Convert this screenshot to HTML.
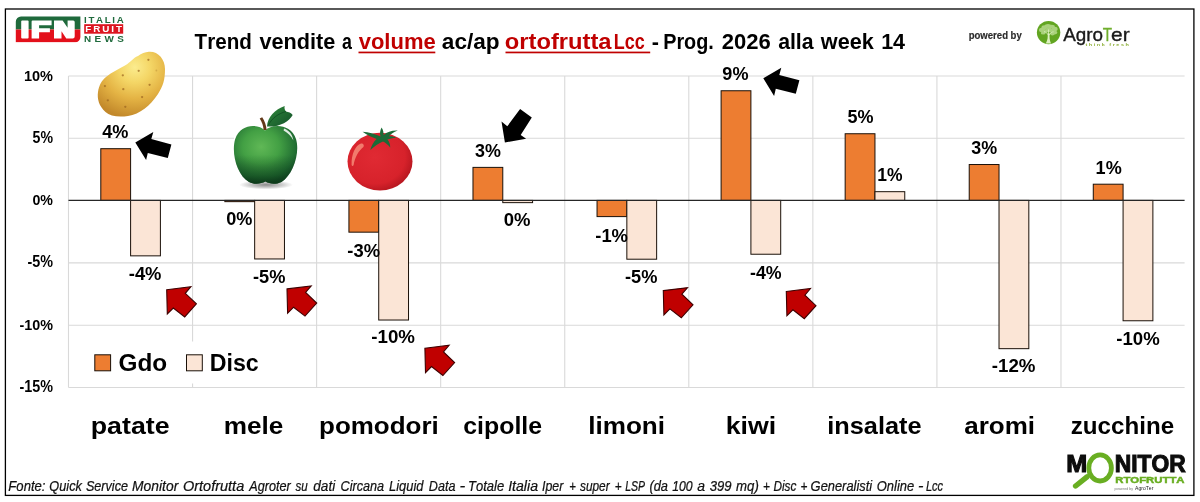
<!DOCTYPE html><html><head><meta charset="utf-8"><title>Trend vendite</title><style>html,body{margin:0;padding:0;background:#fff;overflow:hidden}svg{display:block;will-change:transform}text{font-family:"Liberation Sans",sans-serif;font-kerning:none;white-space:pre}</style></head><body>
<svg width="1200" height="502" viewBox="0 0 1200 502">
<defs>
<radialGradient id="gpot" cx="0.55" cy="0.24" r="0.78"><stop offset="0" stop-color="#fbec8e"/><stop offset="0.3" stop-color="#f4d666"/><stop offset="0.62" stop-color="#e4b344"/><stop offset="1" stop-color="#c2882a"/></radialGradient>
<radialGradient id="gapp" cx="0.43" cy="0.36" r="0.64"><stop offset="0" stop-color="#60b856"/><stop offset="0.45" stop-color="#43a044"/><stop offset="0.85" stop-color="#226f33"/><stop offset="1" stop-color="#17522a"/></radialGradient>
<linearGradient id="gapd" x1="0" y1="0" x2="0" y2="1"><stop offset="0.5" stop-color="#0c3a18" stop-opacity="0"/><stop offset="0.85" stop-color="#0c3a18" stop-opacity="0.45"/><stop offset="1" stop-color="#0a3014" stop-opacity="0.75"/></linearGradient>
<linearGradient id="gleaf" x1="0" y1="0" x2="1" y2="1"><stop offset="0" stop-color="#2f8a3a"/><stop offset="1" stop-color="#14502a"/></linearGradient>
<radialGradient id="gsh" cx="0.5" cy="0.5" r="0.5"><stop offset="0" stop-color="#000" stop-opacity="0.45"/><stop offset="0.6" stop-color="#000" stop-opacity="0.2"/><stop offset="1" stop-color="#000" stop-opacity="0"/></radialGradient>
<radialGradient id="gtom" cx="0.42" cy="0.42" r="0.62"><stop offset="0" stop-color="#e02a33"/><stop offset="0.75" stop-color="#d7222b"/><stop offset="1" stop-color="#b5161f"/></radialGradient>
</defs>
<rect x="0" y="0" width="1200" height="502" fill="#fff"/>
<rect x="5.4" y="9" width="1188.5" height="486.4" fill="none" stroke="#000" stroke-width="1.3"/>
<line x1="68.5" y1="76" x2="1184.6" y2="76" stroke="#d9d9d9" stroke-width="1.1"/>
<line x1="68.5" y1="138.3" x2="1184.6" y2="138.3" stroke="#d9d9d9" stroke-width="1.1"/>
<line x1="68.5" y1="262.9" x2="1184.6" y2="262.9" stroke="#d9d9d9" stroke-width="1.1"/>
<line x1="68.5" y1="325.2" x2="1184.6" y2="325.2" stroke="#d9d9d9" stroke-width="1.1"/>
<line x1="68.5" y1="387.5" x2="1184.6" y2="387.5" stroke="#d9d9d9" stroke-width="1.1"/>
<line x1="68.5" y1="76" x2="68.5" y2="387.5" stroke="#d9d9d9" stroke-width="1.1"/>
<line x1="192.56" y1="76" x2="192.56" y2="387.5" stroke="#d9d9d9" stroke-width="1.1"/>
<line x1="316.62" y1="76" x2="316.62" y2="387.5" stroke="#d9d9d9" stroke-width="1.1"/>
<line x1="440.68" y1="76" x2="440.68" y2="387.5" stroke="#d9d9d9" stroke-width="1.1"/>
<line x1="564.74" y1="76" x2="564.74" y2="387.5" stroke="#d9d9d9" stroke-width="1.1"/>
<line x1="688.8" y1="76" x2="688.8" y2="387.5" stroke="#d9d9d9" stroke-width="1.1"/>
<line x1="812.86" y1="76" x2="812.86" y2="387.5" stroke="#d9d9d9" stroke-width="1.1"/>
<line x1="936.92" y1="76" x2="936.92" y2="387.5" stroke="#d9d9d9" stroke-width="1.1"/>
<line x1="1060.98" y1="76" x2="1060.98" y2="387.5" stroke="#d9d9d9" stroke-width="1.1"/>
<rect x="80" y="341.5" width="190" height="42" fill="#fff"/>
<rect x="100.8" y="148.69" width="29.8" height="51.71" fill="#ed7d31" stroke="#1a1008" stroke-width="1"/>
<rect x="130.6" y="200.4" width="29.8" height="55.45" fill="#fbe5d6" stroke="#1a1008" stroke-width="1"/>
<rect x="224.86" y="200.4" width="29.8" height="1.25" fill="#ed7d31" stroke="#1a1008" stroke-width="1"/>
<rect x="254.66" y="200.4" width="29.8" height="58.56" fill="#fbe5d6" stroke="#1a1008" stroke-width="1"/>
<rect x="348.92" y="200.4" width="29.8" height="31.77" fill="#ed7d31" stroke="#1a1008" stroke-width="1"/>
<rect x="378.72" y="200.4" width="29.8" height="119.62" fill="#fbe5d6" stroke="#1a1008" stroke-width="1"/>
<rect x="472.98" y="167.38" width="29.8" height="33.02" fill="#ed7d31" stroke="#1a1008" stroke-width="1"/>
<rect x="502.78" y="200.4" width="29.8" height="2.24" fill="#fbe5d6" stroke="#1a1008" stroke-width="1"/>
<rect x="597.04" y="200.4" width="29.8" height="16.2" fill="#ed7d31" stroke="#1a1008" stroke-width="1"/>
<rect x="626.84" y="200.4" width="29.8" height="58.81" fill="#fbe5d6" stroke="#1a1008" stroke-width="1"/>
<rect x="721.1" y="90.75" width="29.8" height="109.65" fill="#ed7d31" stroke="#1a1008" stroke-width="1"/>
<rect x="750.9" y="200.4" width="29.8" height="53.83" fill="#fbe5d6" stroke="#1a1008" stroke-width="1"/>
<rect x="845.16" y="133.74" width="29.8" height="66.66" fill="#ed7d31" stroke="#1a1008" stroke-width="1"/>
<rect x="874.96" y="191.68" width="29.8" height="8.72" fill="#fbe5d6" stroke="#1a1008" stroke-width="1"/>
<rect x="969.22" y="164.52" width="29.8" height="35.88" fill="#ed7d31" stroke="#1a1008" stroke-width="1"/>
<rect x="999.02" y="200.4" width="29.8" height="148.27" fill="#fbe5d6" stroke="#1a1008" stroke-width="1"/>
<rect x="1093.28" y="184.2" width="29.8" height="16.2" fill="#ed7d31" stroke="#1a1008" stroke-width="1"/>
<rect x="1123.08" y="200.4" width="29.8" height="120.36" fill="#fbe5d6" stroke="#1a1008" stroke-width="1"/>
<line x1="68.5" y1="200.4" x2="1184.6" y2="200.4" stroke="#262626" stroke-width="1.2"/>
<text transform="translate(23.88,80.55) scale(0.9358,1)" font-size="15.54" font-weight="bold" font-style="normal" fill="#000">10%</text>
<text transform="translate(32.57,142.85) scale(0.9056,1)" font-size="15.59" font-weight="bold" font-style="normal" fill="#000">5%</text>
<text transform="translate(32.44,205.15) scale(0.9146,1)" font-size="15.54" font-weight="bold" font-style="normal" fill="#000">0%</text>
<text transform="translate(27.44,267.45) scale(0.9212,1)" font-size="15.59" font-weight="bold" font-style="normal" fill="#000">-5%</text>
<text transform="translate(19.44,329.75) scale(0.9247,1)" font-size="15.54" font-weight="bold" font-style="normal" fill="#000">-10%</text>
<text transform="translate(19.44,392.05) scale(0.9216,1)" font-size="15.59" font-weight="bold" font-style="normal" fill="#000">-15%</text>
<text transform="translate(102.23,138.15) scale(0.9683,1)" font-size="18.76" font-weight="bold" font-style="normal" fill="#000">4%</text>
<text transform="translate(128.78,280.15) scale(0.9803,1)" font-size="18.76" font-weight="bold" font-style="normal" fill="#000">-4%</text>
<text transform="translate(226.28,225.12) scale(0.9721,1)" font-size="18.64" font-weight="bold" font-style="normal" fill="#000">0%</text>
<text transform="translate(253.04,282.81) scale(0.9606,1)" font-size="18.99" font-weight="bold" font-style="normal" fill="#000">-5%</text>
<text transform="translate(347.28,257.09) scale(0.9884,1)" font-size="18.61" font-weight="bold" font-style="normal" fill="#000">-3%</text>
<text transform="translate(371.27,342.62) scale(1.0046,1)" font-size="18.64" font-weight="bold" font-style="normal" fill="#000">-10%</text>
<text transform="translate(475.09,157.29) scale(0.9625,1)" font-size="18.61" font-weight="bold" font-style="normal" fill="#000">3%</text>
<text transform="translate(503.77,226.12) scale(0.9916,1)" font-size="18.64" font-weight="bold" font-style="normal" fill="#000">0%</text>
<text transform="translate(595.28,242.45) scale(0.9803,1)" font-size="18.76" font-weight="bold" font-style="normal" fill="#000">-1%</text>
<text transform="translate(625.04,282.92) scale(0.9752,1)" font-size="18.71" font-weight="bold" font-style="normal" fill="#000">-5%</text>
<text transform="translate(722.37,80.42) scale(0.9687,1)" font-size="18.64" font-weight="bold" font-style="normal" fill="#000">9%</text>
<text transform="translate(750.05,278.95) scale(0.9491,1)" font-size="18.76" font-weight="bold" font-style="normal" fill="#000">-4%</text>
<text transform="translate(847.45,122.92) scale(0.9626,1)" font-size="18.71" font-weight="bold" font-style="normal" fill="#000">5%</text>
<text transform="translate(877.15,181.05) scale(0.9336,1)" font-size="18.76" font-weight="bold" font-style="normal" fill="#000">1%</text>
<text transform="translate(971.34,154.49) scale(0.9625,1)" font-size="18.61" font-weight="bold" font-style="normal" fill="#000">3%</text>
<text transform="translate(991.77,372.45) scale(1.0019,1)" font-size="18.7" font-weight="bold" font-style="normal" fill="#000">-12%</text>
<text transform="translate(1095.61,173.65) scale(0.9631,1)" font-size="18.76" font-weight="bold" font-style="normal" fill="#000">1%</text>
<text transform="translate(1116.27,344.82) scale(0.9987,1)" font-size="18.64" font-weight="bold" font-style="normal" fill="#000">-10%</text>
<rect x="94.8" y="354.8" width="15.8" height="16" fill="#ed7d31" stroke="#1a1008" stroke-width="1"/>
<rect x="186.5" y="354.8" width="15.8" height="16" fill="#fbe5d6" stroke="#1a1008" stroke-width="1"/>
<text transform="translate(118.5,370.5) scale(0.9915,1)" font-size="24.56" font-weight="bold" font-style="normal" fill="#000">Gdo</text>
<text transform="translate(209.7,370.5) scale(0.9440,1)" font-size="24.56" font-weight="bold" font-style="normal" fill="#000">Disc</text>
<text transform="translate(90.73,433.5) scale(1.1411,1)" font-size="23.48" font-weight="bold" font-style="normal" fill="#000">patate</text>
<text transform="translate(223.78,433.5) scale(1.1138,1)" font-size="23.48" font-weight="bold" font-style="normal" fill="#000">mele</text>
<text transform="translate(319.04,433.5) scale(1.1065,1)" font-size="23.48" font-weight="bold" font-style="normal" fill="#000">pomodori</text>
<text transform="translate(463.28,433.5) scale(1.0596,1)" font-size="23.48" font-weight="bold" font-style="normal" fill="#000">cipolle</text>
<text transform="translate(588.18,433.5) scale(1.1125,1)" font-size="23.48" font-weight="bold" font-style="normal" fill="#000">limoni</text>
<text transform="translate(725.63,433.5) scale(1.1381,1)" font-size="23.48" font-weight="bold" font-style="normal" fill="#000">kiwi</text>
<text transform="translate(827.23,433.5) scale(1.0786,1)" font-size="23.48" font-weight="bold" font-style="normal" fill="#000">insalate</text>
<text transform="translate(964.24,433.5) scale(1.1087,1)" font-size="23.48" font-weight="bold" font-style="normal" fill="#000">aromi</text>
<text transform="translate(1070.73,433.5) scale(1.0289,1)" font-size="23.48" font-weight="bold" font-style="normal" fill="#000">zucchine</text>
<text transform="translate(194.57,48.8) scale(0.9335,1)" font-size="22.09" font-weight="bold" font-style="normal" fill="#000">Trend</text>
<text transform="translate(259.42,48.8) scale(0.9803,1)" font-size="22.09" font-weight="bold" font-style="normal" fill="#000">vendite</text>
<text transform="translate(341.98,48.8) scale(0.8064,1)" font-size="22.09" font-weight="bold" font-style="normal" fill="#000">a</text>
<text transform="translate(358.66,48.8) scale(0.9967,1)" font-size="22.09" font-weight="bold" font-style="normal" fill="#c00000">volume</text>
<text transform="translate(441.84,48.8) scale(1.0238,1)" font-size="22.09" font-weight="bold" font-style="normal" fill="#000">ac/ap</text>
<text transform="translate(504.82,48.8) scale(1.0742,1)" font-size="22.09" font-weight="bold" font-style="normal" fill="#c00000">ortofrutta</text>
<text transform="translate(613.8,48.8) scale(0.8138,1)" font-size="22.09" font-weight="bold" font-style="normal" fill="#c00000">Lcc</text>
<text transform="translate(651.65,48.8) scale(0.9805,1)" font-size="22.09" font-weight="bold" font-style="normal" fill="#000">-</text>
<text transform="translate(663.17,48.8) scale(0.8978,1)" font-size="22.09" font-weight="bold" font-style="normal" fill="#000">Prog.</text>
<text transform="translate(721.74,48.8) scale(0.9982,1)" font-size="22.09" font-weight="bold" font-style="normal" fill="#000">2026</text>
<text transform="translate(778.13,48.8) scale(0.9630,1)" font-size="22.09" font-weight="bold" font-style="normal" fill="#000">alla</text>
<text transform="translate(820.81,48.8) scale(0.9791,1)" font-size="22.09" font-weight="bold" font-style="normal" fill="#000">week</text>
<text transform="translate(881.14,48.8) scale(0.9756,1)" font-size="22.09" font-weight="bold" font-style="normal" fill="#000">14</text>
<rect x="358.5" y="51.6" width="76.8" height="1.7" fill="#c00000"/>
<rect x="505.5" y="51.6" width="144.7" height="1.7" fill="#c00000"/>
<text transform="translate(8.35,491.1) scale(0.9302,1)" font-size="14.1" font-weight="normal" font-style="italic" fill="#111" stroke="#111" stroke-width="0.22" vector-effect="non-scaling-stroke">Fonte:</text>
<text transform="translate(49.37,491.1) scale(0.9044,1)" font-size="14.1" font-weight="normal" font-style="italic" fill="#111" stroke="#111" stroke-width="0.22" vector-effect="non-scaling-stroke">Quick</text>
<text transform="translate(85.89,491.1) scale(0.8950,1)" font-size="14.1" font-weight="normal" font-style="italic" fill="#111" stroke="#111" stroke-width="0.22" vector-effect="non-scaling-stroke">Service</text>
<text transform="translate(132.07,491.1) scale(0.9829,1)" font-size="14.1" font-weight="normal" font-style="italic" fill="#111" stroke="#111" stroke-width="0.22" vector-effect="non-scaling-stroke">Monitor</text>
<text transform="translate(182.96,491.1) scale(1.0291,1)" font-size="14.1" font-weight="normal" font-style="italic" fill="#111" stroke="#111" stroke-width="0.22" vector-effect="non-scaling-stroke">Ortofrutta</text>
<text transform="translate(249.37,491.1) scale(0.8965,1)" font-size="14.1" font-weight="normal" font-style="italic" fill="#111" stroke="#111" stroke-width="0.22" vector-effect="non-scaling-stroke">Agroter</text>
<text transform="translate(295.47,491.1) scale(0.8234,1)" font-size="14.1" font-weight="normal" font-style="italic" fill="#111" stroke="#111" stroke-width="0.22" vector-effect="non-scaling-stroke">su</text>
<text transform="translate(313.29,491.1) scale(0.9635,1)" font-size="14.1" font-weight="normal" font-style="italic" fill="#111" stroke="#111" stroke-width="0.22" vector-effect="non-scaling-stroke">dati</text>
<text transform="translate(340.55,491.1) scale(0.8981,1)" font-size="14.1" font-weight="normal" font-style="italic" fill="#111" stroke="#111" stroke-width="0.22" vector-effect="non-scaling-stroke">Circana</text>
<text transform="translate(389.1,491.1) scale(0.9117,1)" font-size="14.1" font-weight="normal" font-style="italic" fill="#111" stroke="#111" stroke-width="0.22" vector-effect="non-scaling-stroke">Liquid</text>
<text transform="translate(428.86,491.1) scale(0.8921,1)" font-size="14.1" font-weight="normal" font-style="italic" fill="#111" stroke="#111" stroke-width="0.22" vector-effect="non-scaling-stroke">Data</text>
<text transform="translate(459.61,491.1) scale(1.2310,1)" font-size="14.1" font-weight="normal" font-style="italic" fill="#111" stroke="#111" stroke-width="0.22" vector-effect="non-scaling-stroke">-</text>
<text transform="translate(468.08,491.1) scale(0.9226,1)" font-size="14.1" font-weight="normal" font-style="italic" fill="#111" stroke="#111" stroke-width="0.22" vector-effect="non-scaling-stroke">Totale</text>
<text transform="translate(508.19,491.1) scale(1.0003,1)" font-size="14.1" font-weight="normal" font-style="italic" fill="#111" stroke="#111" stroke-width="0.22" vector-effect="non-scaling-stroke">Italia</text>
<text transform="translate(542.01,491.1) scale(0.8777,1)" font-size="14.1" font-weight="normal" font-style="italic" fill="#111" stroke="#111" stroke-width="0.22" vector-effect="non-scaling-stroke">Iper</text>
<text transform="translate(569.28,491.1) scale(0.8029,1)" font-size="14.1" font-weight="normal" font-style="italic" fill="#111" stroke="#111" stroke-width="0.22" vector-effect="non-scaling-stroke">+</text>
<text transform="translate(579.97,491.1) scale(0.8401,1)" font-size="14.1" font-weight="normal" font-style="italic" fill="#111" stroke="#111" stroke-width="0.22" vector-effect="non-scaling-stroke">super</text>
<text transform="translate(614.75,491.1) scale(0.8394,1)" font-size="14.1" font-weight="normal" font-style="italic" fill="#111" stroke="#111" stroke-width="0.22" vector-effect="non-scaling-stroke">+</text>
<text transform="translate(625.18,491.1) scale(0.7464,1)" font-size="14.1" font-weight="normal" font-style="italic" fill="#111" stroke="#111" stroke-width="0.22" vector-effect="non-scaling-stroke">LSP</text>
<text transform="translate(649.4,491.1) scale(0.9098,1)" font-size="14.1" font-weight="normal" font-style="italic" fill="#111" stroke="#111" stroke-width="0.22" vector-effect="non-scaling-stroke">(da</text>
<text transform="translate(672.18,491.1) scale(0.8680,1)" font-size="14.1" font-weight="normal" font-style="italic" fill="#111" stroke="#111" stroke-width="0.22" vector-effect="non-scaling-stroke">100</text>
<text transform="translate(697.19,491.1) scale(0.9940,1)" font-size="14.1" font-weight="normal" font-style="italic" fill="#111" stroke="#111" stroke-width="0.22" vector-effect="non-scaling-stroke">a</text>
<text transform="translate(709.69,491.1) scale(0.9278,1)" font-size="14.1" font-weight="normal" font-style="italic" fill="#111" stroke="#111" stroke-width="0.22" vector-effect="non-scaling-stroke">399</text>
<text transform="translate(736.03,491.1) scale(0.9372,1)" font-size="14.1" font-weight="normal" font-style="italic" fill="#111" stroke="#111" stroke-width="0.22" vector-effect="non-scaling-stroke">mq)</text>
<text transform="translate(763,491.1) scale(0.8394,1)" font-size="14.1" font-weight="normal" font-style="italic" fill="#111" stroke="#111" stroke-width="0.22" vector-effect="non-scaling-stroke">+</text>
<text transform="translate(773.39,491.1) scale(0.8389,1)" font-size="14.1" font-weight="normal" font-style="italic" fill="#111" stroke="#111" stroke-width="0.22" vector-effect="non-scaling-stroke">Disc</text>
<text transform="translate(800.5,491.1) scale(0.8394,1)" font-size="14.1" font-weight="normal" font-style="italic" fill="#111" stroke="#111" stroke-width="0.22" vector-effect="non-scaling-stroke">+</text>
<text transform="translate(810.61,491.1) scale(0.9140,1)" font-size="14.1" font-weight="normal" font-style="italic" fill="#111" stroke="#111" stroke-width="0.22" vector-effect="non-scaling-stroke">Generalisti</text>
<text transform="translate(876.8,491.1) scale(0.9185,1)" font-size="14.1" font-weight="normal" font-style="italic" fill="#111" stroke="#111" stroke-width="0.22" vector-effect="non-scaling-stroke">Online</text>
<text transform="translate(917.91,491.1) scale(1.1626,1)" font-size="14.1" font-weight="normal" font-style="italic" fill="#111" stroke="#111" stroke-width="0.22" vector-effect="non-scaling-stroke">-</text>
<text transform="translate(925.91,491.1) scale(0.7846,1)" font-size="14.1" font-weight="normal" font-style="italic" fill="#111" stroke="#111" stroke-width="0.22" vector-effect="non-scaling-stroke">Lcc</text>
<polygon points="135.3,142.5 153.3,132 151.3,139.1 171.4,144.5 167.8,158 147.8,152.9 146.1,160.1" fill="#000"/>
<polygon points="763.3,78.3 781.3,67.8 779.3,74.9 799.4,80.3 795.8,93.8 775.8,88.7 774.1,95.9" fill="#000"/>
<polygon points="504.9,142.5 501.5,121.6 507.3,126.3 520.1,109.1 531.8,117.5 520.7,135.1 526.1,138.7" fill="#000"/>
<polygon points="166.7,289.7 190.9,286.7 185.3,293.3 196.4,303.9 184.7,316.9 173.3,308 167.3,314" fill="#c00000" stroke="#3d0000" stroke-width="1.1" stroke-linejoin="miter"/>
<polygon points="287,288.9 311.2,285.9 305.6,292.5 316.7,303.1 305,316.1 293.6,307.2 287.6,313.2" fill="#c00000" stroke="#3d0000" stroke-width="1.1" stroke-linejoin="miter"/>
<polygon points="424.9,348.3 449.1,345.3 443.5,351.9 454.6,362.5 442.9,375.5 431.5,366.6 425.5,372.6" fill="#c00000" stroke="#3d0000" stroke-width="1.1" stroke-linejoin="miter"/>
<polygon points="663.3,290.6 687.5,287.6 681.9,294.2 693,304.8 681.3,317.8 669.9,308.9 663.9,314.9" fill="#c00000" stroke="#3d0000" stroke-width="1.1" stroke-linejoin="miter"/>
<polygon points="786.3,291.5 810.5,288.5 804.9,295.1 816,305.7 804.3,318.7 792.9,309.8 786.9,315.8" fill="#c00000" stroke="#3d0000" stroke-width="1.1" stroke-linejoin="miter"/>
<path d="M148.8,51.7 C158,51 165,59 165,69 C165,80 163,86 158,94 C150,106 140,114 128,116 C118,117.5 110,116 105.5,112 C99,106 97,99 98,92 C99,85 102,80 106,77 C112,72 119,69 125,65.5 C131,62 133,58 138,56 C141.5,53.5 145,52 148.8,51.7 Z" fill="url(#gpot)"/>
<circle cx="148.4" cy="59.8" r="1.15" fill="#9a6420" opacity="0.7"/>
<circle cx="138.7" cy="70.8" r="1.15" fill="#9a6420" opacity="0.7"/>
<circle cx="122.8" cy="75.3" r="1.15" fill="#9a6420" opacity="0.7"/>
<circle cx="104.9" cy="86.1" r="1.15" fill="#9a6420" opacity="0.7"/>
<circle cx="123.3" cy="89.2" r="1.15" fill="#9a6420" opacity="0.7"/>
<circle cx="149.6" cy="84.8" r="1.15" fill="#9a6420" opacity="0.7"/>
<circle cx="142.1" cy="97.1" r="1.15" fill="#9a6420" opacity="0.7"/>
<circle cx="107.8" cy="100.3" r="1.15" fill="#9a6420" opacity="0.7"/>
<circle cx="125.3" cy="106.8" r="1.15" fill="#9a6420" opacity="0.7"/>
<circle cx="156.4" cy="70.5" r="0.9" fill="#c9a040" opacity="0.7"/>
<rect x="234" y="101" width="65" height="90" fill="#fff"/>
<ellipse cx="266" cy="184.8" rx="27" ry="4.6" fill="url(#gsh)"/>
<path d="M265,130.5 C258,123.5 240.5,123.5 235.2,139 C231,153 237,175 249,182 C255,185 261,183.8 265.4,181.6 C269.5,183.8 275,185 281.5,182 C293,175 300.3,153 296,139 C291,123.5 272,123.5 265,130.5 Z" fill="url(#gapp)"/>
<path d="M265,130.5 C258,123.5 240.5,123.5 235.2,139 C231,153 237,175 249,182 C255,185 261,183.8 265.4,181.6 C269.5,183.8 275,185 281.5,182 C293,175 300.3,153 296,139 C291,123.5 272,123.5 265,130.5 Z" fill="url(#gapd)"/>
<path d="M266.6,130 C266.4,125.5 264.8,121.3 262.2,117.3 L259.7,118.6 C262,122 263.4,126 263.6,130 Z" fill="#633818"/>
<path d="M267,126.5 C267.5,117 275,109.5 284.7,106 C284.2,108.3 284.6,110 286,111.5 C288.5,111.8 291,113 292.7,114.9 C289,121.5 279,127.5 267,126.5 Z" fill="url(#gleaf)"/>
<path d="M268.5,125 C272,118 278.5,113.5 286,111.5" fill="none" stroke="#0f4a22" stroke-width="0.8"/>
<path d="M284,128.6 C289.5,130.5 292.6,135 293.4,140.5 C291,136 288,133 283.6,130.6 Z" fill="#fff" opacity="0.85"/>
<ellipse cx="380" cy="161.6" rx="32.5" ry="28.8" fill="url(#gtom)"/>
<path d="M361,143.6 C355.5,145.5 351.2,154 351.6,165 C352,166.5 353.2,166.3 353.6,165 C355,157 358.8,150.5 363.4,147 C364.6,145.2 363,143.2 361,143.6 Z" fill="#f27a6c"/>
<path d="M380.6,136.6 C379.6,133.5 380,130.4 381.6,127.4 C383.4,130 383.6,133 383.6,135 C387,131.8 392,130.2 397.8,130.5 C393.5,132.2 390.6,134.2 388.8,136.4 C391.6,136.1 394.2,136.6 396.2,137.8 C392.6,138.2 389.6,138.8 387.4,139.6 C389.4,142 390.3,144.6 390.2,147.4 C388,144.6 385.6,142.6 383,141.4 C379,143 374,146.2 370.3,150 C371.3,145.6 373.6,141.6 376.6,138.9 C372,137.6 366.8,134.8 362.6,131.8 C368.5,132.2 375,134 380.6,136.6 Z" fill="#1b6b37"/>
<clipPath id="cb"><path d="M21,16.5 H80.4 V37 a5.2,5.2 0 0 1 -5.2,5.2 H15.8 V21.7 a5.2,5.2 0 0 1 5.2,-5.2 Z"/></clipPath>
<g clip-path="url(#cb)"><rect x="15" y="16" width="66" height="13.5" fill="#1f6a3c"/><rect x="15" y="29.5" width="66" height="13" fill="#e3101b"/></g>
<g fill="#fff">
<rect x="21.2" y="20.5" width="7.4" height="17.9" rx="1"/>
<path d="M32.6,20.5 H51.6 V25.2 H39.1 V28.3 H49.9 V32.3 H39.1 V38.4 H31.6 V21.5 a1,1 0 0 1 1,-1 Z"/>
<path d="M54,20.5 H62.6 L67.6,27.8 V20.5 H73.2 a1.5,1.5 0 0 1 1.5,1.5 V36.4 a2,2 0 0 1 -2,2 H66.3 L61.5,31.2 V38.4 H54 Z"/>
</g>
<text transform="translate(84.05,22.5) scale(1.0431,1)" font-size="9.3" font-weight="bold" font-style="normal" fill="#1f6a3c" letter-spacing="1.6">ITALIA</text>
<rect x="84.2" y="24.2" width="39" height="9.5" fill="#dc1620"/>
<text transform="translate(85.24,32.3) scale(1.1069,1)" font-size="8.87" font-weight="bold" font-style="normal" fill="#fff" letter-spacing="1.8">FRUIT</text>
<text transform="translate(84.04,42.2) scale(1.1166,1)" font-size="8.87" font-weight="bold" font-style="normal" fill="#1f6a3c" letter-spacing="3">NEWS</text>
<text transform="translate(968.67,38.7) scale(0.8284,1)" font-size="11.55" font-weight="bold" font-style="normal" fill="#2b2b2b" stroke="#2b2b2b" stroke-width="0.2">powered by</text>
<circle cx="1048.6" cy="32.6" r="11.7" fill="#62a521"/>
<g fill="#d6eeb4" opacity="0.62">
<ellipse cx="1042.2" cy="30" rx="3.2" ry="2.2"/>
<ellipse cx="1044.5" cy="27.2" rx="3" ry="2"/>
<ellipse cx="1048" cy="25.8" rx="3.2" ry="1.9"/>
<ellipse cx="1051.8" cy="26.6" rx="3" ry="1.9"/>
<ellipse cx="1054.6" cy="29" rx="3" ry="2.2"/>
<ellipse cx="1054.8" cy="32.6" rx="2.6" ry="1.8"/>
<ellipse cx="1051" cy="30.6" rx="2.8" ry="1.8"/>
<ellipse cx="1046.6" cy="30.8" rx="2.8" ry="1.8"/>
<ellipse cx="1043.2" cy="33" rx="2.4" ry="1.6"/>
<ellipse cx="1049" cy="28.6" rx="2.6" ry="1.6"/>
<ellipse cx="1052.4" cy="34" rx="2.2" ry="1.4"/>
</g>
<path d="M1047.6,33.5 C1048,37 1047.6,40.5 1045.8,43.4 L1051,43.4 C1049.6,40.5 1049.3,37 1049.7,33.5 Z" fill="#e4f4c8" opacity="0.95"/>
<path d="M1048.6,35 C1047,33 1045.5,32 1044,31.6 M1048.8,35 C1050.2,33 1052,32 1053.6,31.8 M1048.6,34 L1048.6,29.5" fill="none" stroke="#e4f4c8" stroke-width="0.9" opacity="0.9"/>
<text transform="translate(1063.16,41.2) scale(1.0811,1)" font-size="17.44" font-weight="normal" font-style="normal" fill="#1a1a1a" stroke="#1a1a1a" stroke-width="0.35">Agro</text>
<text transform="translate(1102.86,41.2) scale(0.8439,1)" font-size="18.02" font-weight="normal" font-style="normal" fill="#6fae2c" stroke="#6fae2c" stroke-width="0.35">T</text>
<text transform="translate(1111.11,41.2) scale(1.1949,1)" font-size="17.44" font-weight="normal" font-style="normal" fill="#1a1a1a" stroke="#1a1a1a" stroke-width="0.35">er</text>
<text transform="translate(1085.43,46.2) scale(1.2719,1)" font-size="4.36" font-weight="bold" font-style="normal" fill="#8fb03a" letter-spacing="1.2">think fresh</text>
<text transform="translate(1066.32,471.7) scale(1.0187,1)" font-size="24.71" font-weight="bold" font-style="normal" fill="#0d0d0d" stroke="#0d0d0d" stroke-width="1.1">M</text>
<text transform="translate(1114.67,471.7) scale(0.9236,1)" font-size="24.71" font-weight="bold" font-style="normal" fill="#0d0d0d" stroke="#0d0d0d" stroke-width="1.1">NITOR</text>
<line x1="1087" y1="476.8" x2="1075.6" y2="486" stroke="#69ae22" stroke-width="5.4" stroke-linecap="round"/>
<ellipse cx="1100.1" cy="467.95" rx="11.3" ry="13.05" fill="#fff" stroke="#69ae22" stroke-width="4.8"/>
<text transform="translate(1115.24,482.8) scale(1.1834,1)" font-size="9.59" font-weight="bold" font-style="normal" fill="#69ae22" stroke="#69ae22" stroke-width="0.5">RTOFRUTTA</text>
<text transform="translate(1114.57,489.6) scale(0.9415,1)" font-size="3.79" font-weight="normal" font-style="normal" fill="#777">powered by</text>
<text transform="translate(1134.99,489.6) scale(0.9732,1)" font-size="5.23" font-weight="normal" font-style="normal" fill="#222">AgroTer</text>
</svg></body></html>
